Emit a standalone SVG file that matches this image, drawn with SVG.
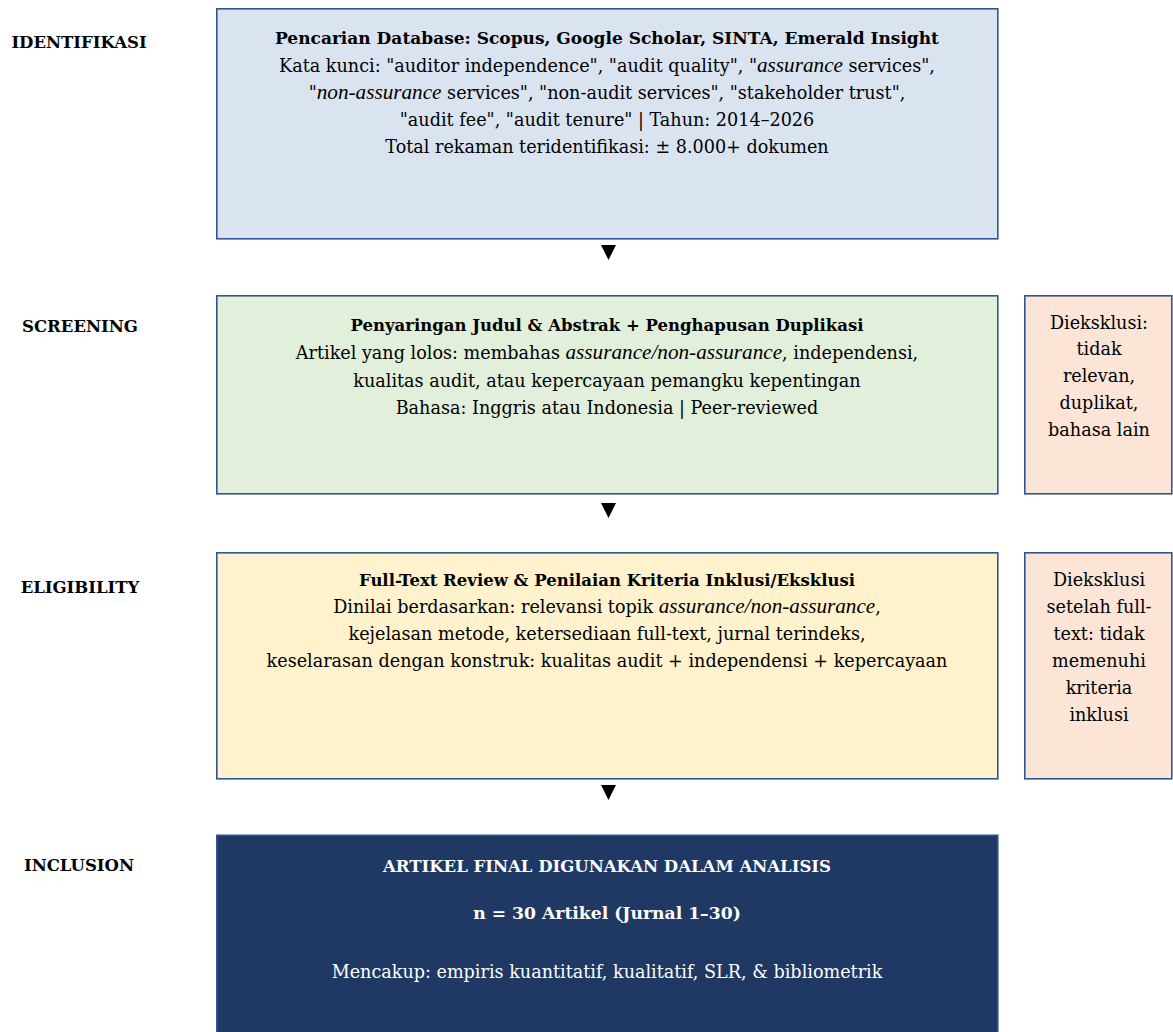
<svg xmlns="http://www.w3.org/2000/svg" width="1173" height="1032" viewBox="0 0 1173 1032">
<style>
text{font-family:"DejaVu Serif","Liberation Serif",serif;fill:#000;}
.lbl{font-size:16.5px;font-weight:bold;text-anchor:middle;}
.t{font-size:16.5px;font-weight:bold;text-anchor:middle;}
.b{font-size:17.6px;text-anchor:middle;}
.i{font-family:"Liberation Serif",serif;font-style:italic;font-size:21.2px;}
.w{fill:#fff;}
.box{stroke:#2F5597;stroke-width:1.6;}
.blue{fill:#DAE3F0;}
.green{fill:#E2EFDA;}
.yellow{fill:#FFF2CC;}
.peach{fill:#FCE4D6;}
.navy{fill:#203864;}
.arr{fill:#000;}
</style>
<rect width="1173" height="1032" fill="#fff"/>
<g id="labels">
<text class="lbl" x="79" y="48">IDENTIFIKASI</text>
<text class="lbl" x="80" y="332">SCREENING</text>
<text class="lbl" x="80" y="593">ELIGIBILITY</text>
<text class="lbl" x="79" y="871">INCLUSION</text>
</g>
<g id="connectors">
<polygon class="arr" points="601,245 616,245 608.5,260"/>
<polygon class="arr" points="601,503 616,503 608.5,518"/>
<polygon class="arr" points="601,785 616,785 608.5,800"/>
</g>
<g id="identifikasi">
<rect class="box blue" x="216.8" y="8.8" width="781" height="230"/>
<text class="t" x="607" y="43.5" style="font-size:17px">Pencarian Database: Scopus, Google Scholar, SINTA, Emerald Insight</text>
<text class="b" x="607" y="72">Kata kunci: "auditor independence", "audit quality", "<tspan class="i">assurance</tspan> services",</text>
<text class="b" x="607" y="99">"<tspan class="i">non-assurance</tspan> services", "non-audit services", "stakeholder trust",</text>
<text class="b" x="607" y="126">"audit fee", "audit tenure" | Tahun: 2014–2026</text>
<text class="b" x="607" y="153">Total rekaman teridentifikasi: ± 8.000+ dokumen</text>
</g>
<g id="screening">
<rect class="box green" x="216.8" y="295.8" width="781" height="198"/>
<text class="t" x="607" y="331">Penyaringan Judul &amp; Abstrak + Penghapusan Duplikasi</text>
<text class="b" x="607" y="359">Artikel yang lolos: membahas <tspan class="i">assurance/non-assurance</tspan>, independensi,</text>
<text class="b" x="607" y="387">kualitas audit, atau kepercayaan pemangku kepentingan</text>
<text class="b" x="607" y="414">Bahasa: Inggris atau Indonesia | Peer-reviewed</text>
</g>
<g id="exclusion-screening">
<rect class="box peach" x="1024.8" y="295.8" width="147" height="198"/>
<text class="b" x="1099" y="329">Dieksklusi:</text>
<text class="b" x="1099" y="355">tidak</text>
<text class="b" x="1099" y="382">relevan,</text>
<text class="b" x="1099" y="409">duplikat,</text>
<text class="b" x="1099" y="436">bahasa lain</text>
</g>
<g id="eligibility">
<rect class="box yellow" x="216.8" y="552.8" width="781" height="226"/>
<text class="t" x="607" y="586">Full-Text Review &amp; Penilaian Kriteria Inklusi/Eksklusi</text>
<text class="b" x="607" y="613">Dinilai berdasarkan: relevansi topik <tspan class="i">assurance/non-assurance</tspan>,</text>
<text class="b" x="607" y="640">kejelasan metode, ketersediaan full-text, jurnal terindeks,</text>
<text class="b" x="607" y="667">keselarasan dengan konstruk: kualitas audit + independensi + kepercayaan</text>
</g>
<g id="exclusion-eligibility">
<rect class="box peach" x="1024.8" y="552.8" width="147" height="226"/>
<text class="b" x="1099" y="586">Dieksklusi</text>
<text class="b" x="1099" y="613">setelah full-</text>
<text class="b" x="1099" y="640">text: tidak</text>
<text class="b" x="1099" y="667">memenuhi</text>
<text class="b" x="1099" y="694">kriteria</text>
<text class="b" x="1099" y="721">inklusi</text>
</g>
<g id="inclusion">
<rect class="box navy" x="216.8" y="835.3" width="781" height="210"/>
<text class="t w" x="607" y="871.5">ARTIKEL FINAL DIGUNAKAN DALAM ANALISIS</text>
<text class="t w" x="607" y="918.5" style="font-size:17.2px">n = 30 Artikel (Jurnal 1–30)</text>
<text class="b w" x="607" y="978">Mencakup: empiris kuantitatif, kualitatif, SLR, &amp; bibliometrik</text>
</g>
</svg>
